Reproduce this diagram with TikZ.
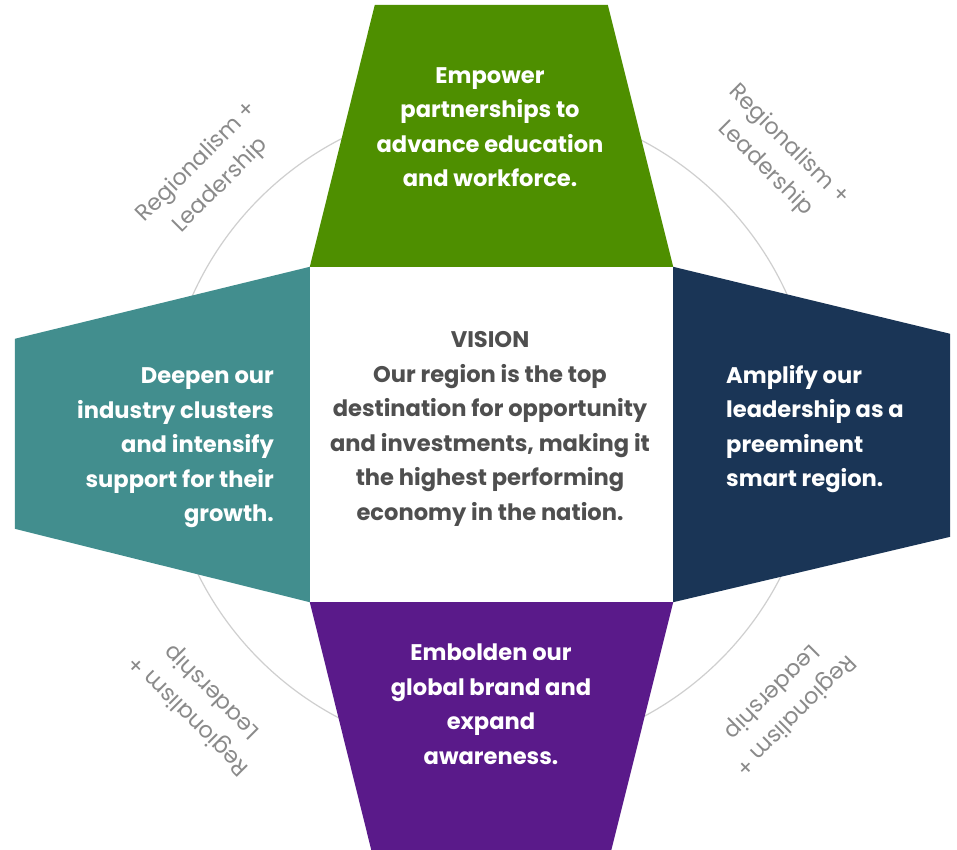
\documentclass[tikz,border=0pt]{standalone}
\usepackage{fontspec}
\setmainfont{Poppins}
\definecolor{leafgreen}{HTML}{4E8F00}
\definecolor{tealgoal}{HTML}{428E8E}
\definecolor{navygoal}{HTML}{1A3556}
\definecolor{purplegoal}{HTML}{5A1A8A}
\definecolor{visiongray}{HTML}{4F4F4F}
\definecolor{ringgray}{HTML}{CFCFCF}
\definecolor{labelgray}{HTML}{8A8A8A}

\begin{document}
\begin{tikzpicture}[x=1pt,y=-1pt,
    goal/.style={text=white,font=\bfseries\fontsize{22.6}{34.5}\selectfont,inner sep=0pt},
    tag/.style={text=labelgray,font=\fontsize{22.5}{33}\selectfont,align=center,inner sep=0pt},
    ring/.style={draw=ringgray,line width=1.2pt}]
		\clip (0,0) rectangle (957,849);
		\fill[white] (0,0) rectangle (957,849);
		\draw[ring] (490,429) circle (326);
		\node[fill=white,minimum width=363pt,minimum height=335pt,inner sep=0pt](vision) at (491.5,434.5) {};
		\fill[leafgreen] (vision.north west) -- ++(65,-262) -- ++(233,0) -- (vision.north east) -- cycle;
		\fill[tealgoal] (vision.north west) -- ++(-295,72) -- ++(0,190) -- (vision.south west) -- cycle;
		\fill[navygoal] (vision.north east) -- ++(277,67) -- ++(0,203) -- (vision.south east) -- cycle;
		\fill[purplegoal] (vision.south west) -- ++(65,262) -- ++(233,0) -- (vision.south east) -- cycle;
		\node[goal,align=center](edu) at (490,127) {Empower\\partnerships to\\advance education\\and workforce.};
		\node[goal,align=right,anchor=east](clus) at (274,448) {Deepen our\\industry clusters\\and intensify\\support for their\\growth.};
		\node[goal,align=left,anchor=west](smart) at (726,429) {Amplify our\\leadership as a\\preeminent\\smart region.};
		\node[goal,align=center](brand) at (491,704) {Embolden our\\global brand and\\expand\\awareness.};
		\node[goal,text=visiongray,align=center](vtext) at (490,429) {VISION\\Our region is the top\\destination for opportunity\\and investments, making it\\the highest performing\\economy in the nation.};
		\node[tag,rotate=45](rl1) at (209,174) {Regionalism +\\Leadership};
		\node[tag,rotate=-45](rl2) at (777,157) {Regionalism +\\Leadership};
		\node[tag,rotate=135](rl3) at (201,703) {Regionalism +\\Leadership};
		\node[tag,rotate=-135](rl4) at (783,703) {Regionalism +\\Leadership};
\end{tikzpicture}
\end{document}
